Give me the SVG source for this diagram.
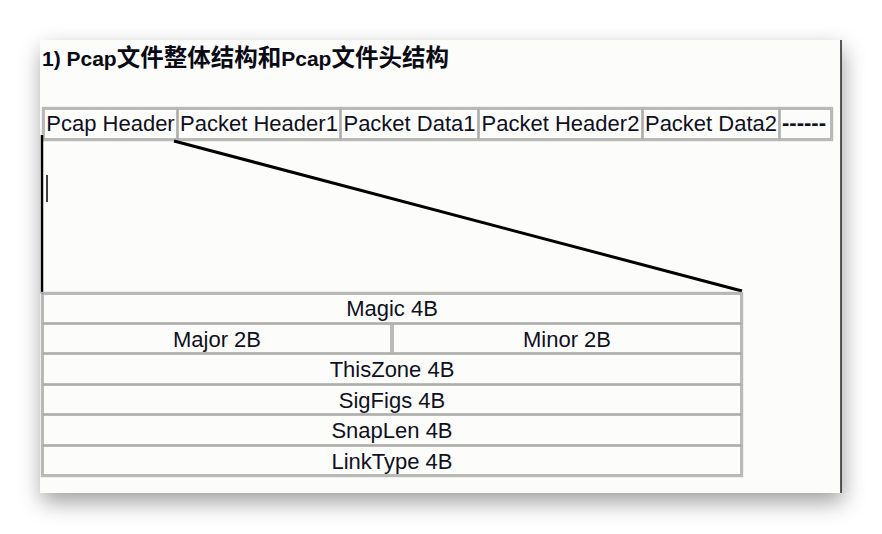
<svg xmlns="http://www.w3.org/2000/svg" width="882" height="534" viewBox="0 0 882 534">
<defs>
<filter id="shadow" x="-10%" y="-10%" width="120%" height="130%">
<feDropShadow dx="2" dy="9" stdDeviation="11" flood-color="#000" flood-opacity="0.38"/>
</filter>
<style>
.t{font-family:"Liberation Sans",Arial,"Noto Sans CJK SC",sans-serif;font-size:22px;fill:#10101e}
.c{text-anchor:middle}
.cell{fill:none;stroke:#aaaaaa;stroke-width:1.6}
.outer{fill:none;stroke:#b8b8b8;stroke-width:1.4}
.title{font-family:"Liberation Sans",Arial,"Noto Sans CJK SC",sans-serif;font-weight:bold;font-size:21px;fill:#0a0a14}
.cjk{font-family:"Noto Sans CJK SC",sans-serif;font-size:23.5px}
.conn{stroke:#000;fill:none}
</style>
</defs>
<rect width="882" height="534" fill="#ffffff"/>
<rect id="panel" x="40" y="40" width="801" height="453" fill="#fcfdfb" filter="url(#shadow)"/>
<line x1="841" y1="40" x2="841" y2="493" stroke="#222" stroke-width="1.5"/>

<text class="title" x="42" y="66">1) Pcap<tspan class="cjk">文件整体结构和</tspan>Pcap<tspan class="cjk">文件头结构</tspan></text>

<rect class="outer" x="42.5" y="107.5" width="790" height="33"/>
<g id="pcap-header"><rect class="cell" x="44" y="109" width="133" height="30"/><text class="t c" x="110.5" y="130.5">Pcap Header</text></g>
<g id="packet-header1"><rect class="cell" x="178" y="109" width="162" height="30"/><text class="t c" x="259" y="130.5">Packet Header1</text></g>
<g id="packet-data1"><rect class="cell" x="341" y="109" width="137" height="30"/><text class="t c" x="409.5" y="130.5">Packet Data1</text></g>
<g id="packet-header2"><rect class="cell" x="479" y="109" width="163" height="30"/><text class="t c" x="560.5" y="130.5">Packet Header2</text></g>
<g id="packet-data2"><rect class="cell" x="643" y="109" width="136" height="30"/><text class="t c" x="711" y="130.5">Packet Data2</text></g>
<g id="more"><rect class="cell" x="780" y="109" width="51" height="30"/><text class="t" x="782" y="130" font-weight="bold" font-size="21">------</text></g>

<g id="connectors">
<line class="conn" x1="174" y1="141" x2="742" y2="291" stroke-width="3"/>
<line class="conn" x1="42" y1="135" x2="42" y2="294" stroke-width="2.5"/>
<line class="conn" x1="47" y1="175" x2="47" y2="202" stroke-width="1.5"/>
</g>

<rect class="outer" x="41.5" y="292.5" width="701" height="184"/>
<g id="magic"><rect class="cell" x="43" y="294" width="698" height="29"/><text class="t c" x="392" y="315.5">Magic 4B</text></g>
<g id="major"><rect class="cell" x="43" y="324" width="348" height="29"/><text class="t c" x="217" y="346.5">Major 2B</text></g>
<g id="minor"><rect class="cell" x="393" y="324" width="348" height="29"/><text class="t c" x="567" y="346.5">Minor 2B</text></g>
<g id="thiszone"><rect class="cell" x="43" y="354" width="698" height="30"/><text class="t c" x="392" y="377">ThisZone 4B</text></g>
<g id="sigfigs"><rect class="cell" x="43" y="385" width="698" height="29"/><text class="t c" x="392" y="407.5">SigFigs 4B</text></g>
<g id="snaplen"><rect class="cell" x="43" y="415" width="698" height="30"/><text class="t c" x="392" y="438">SnapLen 4B</text></g>
<g id="linktype"><rect class="cell" x="43" y="446" width="698" height="29"/><text class="t c" x="392" y="468.5">LinkType 4B</text></g>
</svg>
